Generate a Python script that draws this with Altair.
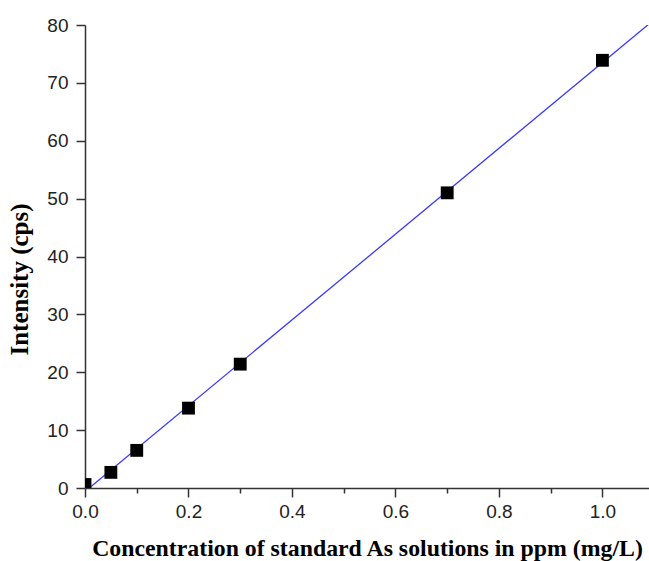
import altair as alt
import pandas as pd

# Calibration standards: concentration (mg/L) vs. measured intensity (cps)
concentration = [0.0, 0.05, 0.1, 0.2, 0.3, 0.7, 1.0]
intensity = [0.6, 2.7, 6.5, 13.8, 21.4, 51.0, 73.9]

df = pd.DataFrame({"conc": concentration, "intensity": intensity})

x_scale = alt.Scale(domain=[0, 1.09], nice=False, zero=False)
y_scale = alt.Scale(domain=[0, 80], nice=False)

x_axis = alt.Axis(
    title="Concentration of standard As solutions in ppm (mg/L)",
    values=[round(i * 0.1, 1) for i in range(11)],
    labelExpr="round(datum.value * 10) % 2 ? '' : format(datum.value, '.1f')",
    tickSize={"condition": {"test": "round(datum.value * 10) % 2", "value": 5}, "value": 9},
    labelPadding=5,
    labelFlush=False,
    labelOverlap=False,
    titleFontSize=23.8,
    titlePadding=15,
)
y_axis = alt.Axis(
    title="Intensity (cps)",
    values=list(range(0, 81, 5)),
    labelExpr="datum.value % 10 ? '' : datum.label",
    tickSize={"condition": {"test": "datum.value % 10", "value": 5}, "value": 9},
    labelPadding=8,
    labelFlush=False,
    labelOverlap=False,
    titleFontSize=25,
    titleX=-53,
    titleY=254,
)

base = alt.Chart(df)

fit = base.transform_regression(
    "conc", "intensity", method="linear", extent=[0, 1.09]
).mark_line(color="#3a3aff", strokeWidth=1.3, clip=True).encode(
    x=alt.X("conc:Q", scale=x_scale, axis=x_axis),
    y=alt.Y("intensity:Q", scale=y_scale, axis=y_axis),
)

points = base.mark_point(
    shape="square", filled=True, color="#000000", size=165, opacity=1, clip=True
).encode(
    x=alt.X("conc:Q", scale=x_scale),
    y=alt.Y("intensity:Q", scale=y_scale),
)

chart = (
    alt.layer(fit, points)
    .properties(
        width=564,
        height=463,
        autosize=alt.AutoSizeParams(type="none"),
        padding={"left": 85, "top": 25, "right": 0, "bottom": 73},
    )
    .configure_view(stroke=None)
    .configure_axis(
        grid=False,
        domainColor="#333333",
        domainWidth=1.5,
        tickColor="#333333",
        tickWidth=1.5,
        labelFont="Liberation Sans",
        labelFontSize=19,
        labelColor="#222222",
        titleFont="Liberation Serif",
        titleFontWeight="bold",
        titleColor="#000000",
    )
)

chart.save("out.html", embed_options={"renderer": "svg", "actions": False})
